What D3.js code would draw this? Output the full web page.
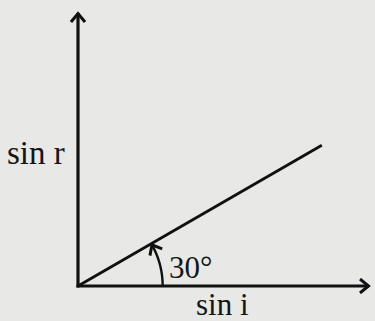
<!DOCTYPE html>
<html>
<head>
<meta charset="utf-8">
<style>
  html, body { margin: 0; padding: 0; background: #e8e8e6; }
  svg { display: block; }
  text { font-family: "Liberation Serif", "DejaVu Serif", serif; fill: #151515; }
</style>
</head>
<body>
<script src="https://cdn.jsdelivr.net/npm/d3@7"></script>
<script>
  var width = 375, height = 321;

  // data
  var axisLabels = ["sin i", "sin r"];
  var angleDeg = [30];
  var lineXs = [0, 0.835];     // sin i values along the straight line
  var arcRadius = [0.29];      // radius of angle arc, in x units

  var origin = { x: 78, y: 286 };
  var x = d3.scaleLinear().domain([0, 1]).range([origin.x, 370]);
  var unit = x(1) - x(0);
  var y = d3.scaleLinear().domain([0, (origin.y - 12) / unit]).range([origin.y, 12]);

  var svg = d3.select("body").append("svg")
      .attr("width", width)
      .attr("height", height);

  var defs = svg.append("defs");
  defs.append("marker")
      .attr("id", "arr")
      .attr("viewBox", "-12 -8 14 16")
      .attr("refX", 0).attr("refY", 0)
      .attr("markerWidth", 14).attr("markerHeight", 16)
      .attr("markerUnits", "userSpaceOnUse")
      .attr("orient", "auto")
    .append("path")
      .attr("d", "M-9,-7 L-0.5,0 L-9,7")
      .attr("fill", "none")
      .attr("stroke", "#111")
      .attr("stroke-width", 3)
      .attr("stroke-linejoin", "miter");

  // axes
  svg.append("line")
      .attr("x1", x(0) - 1.5).attr("y1", y(0))
      .attr("x2", x(1) - 1).attr("y2", y(0))
      .attr("stroke", "#111").attr("stroke-width", 3.2)
      .attr("marker-end", "url(#arr)");
  svg.append("line")
      .attr("x1", x(0)).attr("y1", y(0) + 1.5)
      .attr("x2", x(0)).attr("y2", y.range()[1] + 1)
      .attr("stroke", "#111").attr("stroke-width", 3.2)
      .attr("marker-end", "url(#arr)");

  // straight line at 30 deg
  var slope = Math.tan(angleDeg[0] * Math.PI / 180);
  var pts = lineXs.map(function (v) { return [x(v), y(v * slope)]; });
  svg.append("path")
      .attr("d", d3.line()(pts))
      .attr("stroke", "#111").attr("stroke-width", 2.8).attr("fill", "none");

  // angle arc
  var r = arcRadius[0] * unit;
  var a = angleDeg[0] * Math.PI / 180;
  var arcPts = d3.range(0, 1.001, 0.05).map(function (t) {
    var th = t * (a - 0.01);
    return [origin.x + r * Math.cos(th), origin.y - r * Math.sin(th)];
  });
  svg.append("path")
      .attr("d", d3.line().curve(d3.curveBasis)(arcPts))
      .attr("stroke", "#111").attr("stroke-width", 2.4).attr("fill", "none")
      .attr("marker-end", "url(#arr)");

  // labels
  svg.append("text")
      .attr("x", 7).attr("y", 164)
      .style("font-size", "33px")
      .text(axisLabels[1]);
  svg.append("text")
      .attr("x", 196).attr("y", 315)
      .style("font-size", "31px")
      .text(axisLabels[0]);
  svg.append("text")
      .attr("x", 169).attr("y", 278)
      .style("font-size", "31px")
      .text(angleDeg[0] + "°");
</script>
</body>
</html>
